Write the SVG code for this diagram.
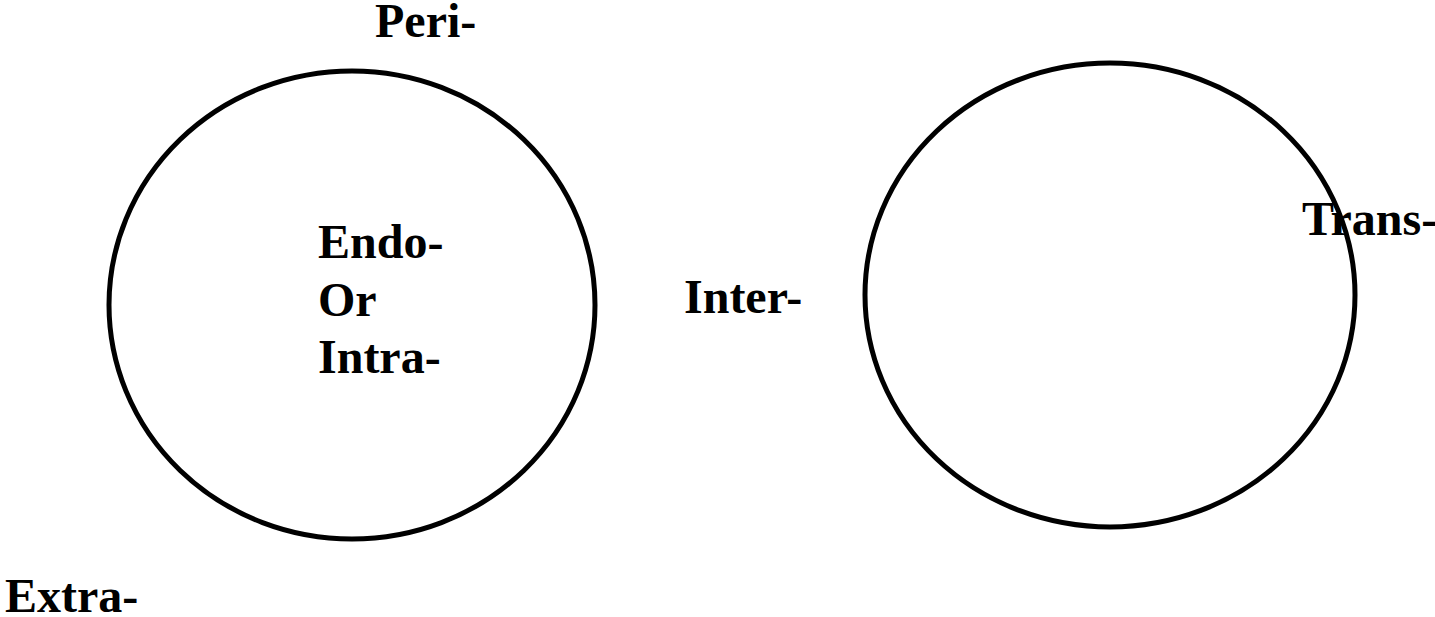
<svg xmlns="http://www.w3.org/2000/svg" width="1435" height="617" viewBox="0 0 1435 617">
<style>
.ring{fill:none;stroke:#000;stroke-width:5}
.lbl{font-family:"Liberation Serif","Times New Roman",serif;font-weight:bold;font-size:48px;fill:#000}
</style>
<rect width="1435" height="617" fill="#fff"/>
<g id="left-circle"><ellipse class="ring" cx="352" cy="305" rx="243" ry="234"/></g>
<g id="right-circle"><ellipse class="ring" cx="1110" cy="295" rx="245" ry="232"/></g>
<g id="connectors"></g>
<g id="label-peri"><text class="lbl" x="375" y="37">Peri-</text></g>
<g id="label-endo"><text class="lbl" x="318" y="258">Endo-</text><text class="lbl" x="318" y="316">Or</text><text class="lbl" x="318" y="373">Intra-</text></g>
<g id="label-inter"><text class="lbl" x="684" y="313">Inter-</text></g>
<g id="label-trans"><text class="lbl" x="1302" y="235">Trans-</text></g>
<g id="label-extra"><text class="lbl" x="5" y="612">Extra-</text></g>
</svg>
